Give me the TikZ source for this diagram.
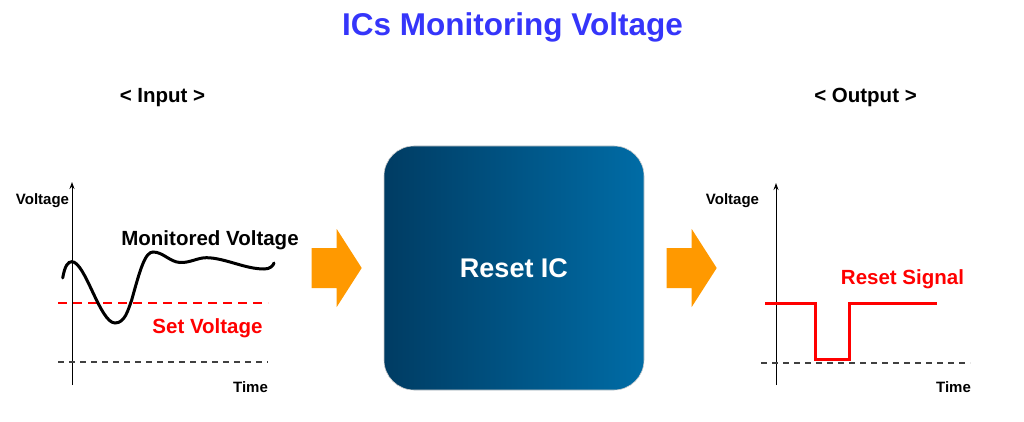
\documentclass[tikz,border=0pt]{standalone}
\usepackage{fontspec}
\setmainfont{Liberation Sans}
\usetikzlibrary{arrows.meta}
\definecolor{titleblue}{HTML}{3535FA}
\definecolor{sigred}{HTML}{FF0000}
\definecolor{arroworange}{HTML}{FF9900}
\definecolor{boxL}{HTML}{003C63}
\definecolor{boxR}{HTML}{006CA6}
\tikzset{
  lbl/.style={font=\fontsize{#1}{#1}\selectfont\bfseries, inner sep=0pt, anchor=base},
  axis/.style={line width=1pt, -{Stealth[length=7pt,width=5pt]}},
  guide/.style={line width=1.4pt, dash pattern=on 6pt off 5pt, black!75},
  setline/.style={line width=2pt, dash pattern=on 9pt off 6pt, sigred},
  curve/.style={line width=3pt, black, line cap=round},
  sig/.style={line width=3pt, sigred},
  bigarrow/.style={fill=arroworange, draw=none},
  icbox/.style={rounded corners=30pt, minimum width=260pt, minimum height=244pt,
    left color=boxL, right color=boxR, draw=gray!40, line width=0.6pt}
}
\begin{document}
\begin{tikzpicture}[x=1pt,y=-1pt]
\useasboundingbox (0,0) rectangle (1024,422);
% title
\node[lbl=31.5, text=titleblue] (title) at (512.5,36) {ICs Monitoring Voltage};
\node[lbl=20.5] (inlbl) at (162.5,103) {< Input >};
\node[lbl=20.5] (outlbl) at (865.5,103) {< Output >};

% ---- input graph
\coordinate (ay0) at (72,385);
\coordinate (ay1) at (72,182);
\draw[axis] (ay0) -- (ay1);
\node[lbl=15] (vin) at (42.5,204) {Voltage};
\node[lbl=15] (tin) at (250.5,392) {Time};
\coordinate (g0) at (58,362); \coordinate (g1) at (268,362);
\draw[guide] (g0) -- (g1);
\coordinate (s0) at (58,303); \coordinate (s1) at (268,303);
\draw[setline] (s0) -- (s1);
\node[lbl=20.5, text=sigred] (setv) at (207.5,333) {Set Voltage};
\node[lbl=20.5] (monv) at (210,245) {Monitored Voltage};
\draw[curve] (62.7,278) .. controls (65,265) and (68,262) .. (71.7,261.7)
  .. controls (85,261) and (100,323) .. (115,323)
  .. controls (125,323) and (128,310) .. (131.7,300)
  .. controls (140,270) and (145,252) .. (153,252)
  .. controls (163,252) and (170,262) .. (180,262.5)
  .. controls (190,263) and (198,257.5) .. (206.7,257.7)
  .. controls (225,258) and (245,269) .. (264,269)
  .. controls (270,269) and (273,266) .. (274,263);

% ---- arrows
\fill[bigarrow] (311.7,248) -- (336.7,248) -- (336.7,229) -- (361.7,268)
  -- (336.7,307) -- (336.7,288) -- (311.7,288) -- cycle;
\fill[bigarrow] (666.7,248) -- (691.7,248) -- (691.7,229) -- (716.7,268)
  -- (691.7,307) -- (691.7,288) -- (666.7,288) -- cycle;

% ---- IC box
\node[icbox] (ic) at (514,268) {};
\node[lbl=27, text=white, anchor=center] (iclbl) at (514,268) {Reset IC};

% ---- output graph
\coordinate (by0) at (776,385);
\coordinate (by1) at (776,183);
\draw[axis] (by0) -- (by1);
\node[lbl=15] (vout) at (732.5,204) {Voltage};
\node[lbl=15] (tout) at (953.5,392) {Time};
\coordinate (h0) at (761,363); \coordinate (h1) at (970,363);
\draw[guide] (h0) -- (h1);
\draw[sig] (765,303) -- (815,303) -- (815,359) -- (849,359) -- (849,303) -- (937,303);
\node[lbl=20.5, text=sigred] (rsig) at (902.5,284) {Reset Signal};
\end{tikzpicture}
\end{document}
